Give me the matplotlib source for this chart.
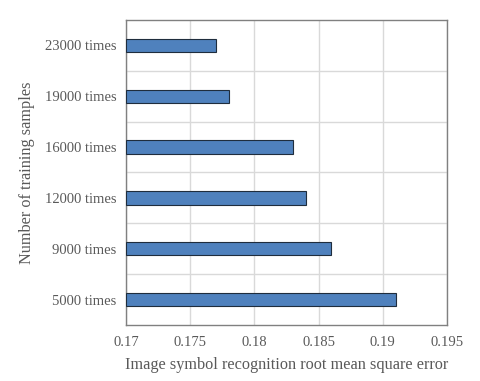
import matplotlib
matplotlib.use("Agg")
import matplotlib.pyplot as plt

categories = ["5000 times", "9000 times", "12000 times", "16000 times", "19000 times", "23000 times"]
values = [0.191, 0.186, 0.184, 0.183, 0.178, 0.177]
xticks = [0.17, 0.175, 0.18, 0.185, 0.19, 0.195]
xtick_labels = ["0.17", "0.175", "0.18", "0.185", "0.19", "0.195"]

plt.rcParams['font.family'] = ['Liberation Serif', 'DejaVu Serif']
text_color = "#595959"

fig = plt.figure(figsize=(4.8, 3.81), dpi=100)
ax = fig.add_axes([0.2625, 0.147, 0.66875, 0.8005])

y = list(range(len(categories)))
ax.barh(y, [v - 0.17 for v in values], left=0.17, height=0.26,
        color="#4F81BD", edgecolor="#1F2D3D", linewidth=0.8, zorder=3)

ax.set_xlim(0.17, 0.195)
ax.set_ylim(-0.5, 5.5)
ax.set_xticks(xticks)
ax.set_xticklabels(xtick_labels)
ax.set_yticks(y)
ax.set_yticklabels(categories)

ax.set_yticks([i + 0.5 for i in range(len(categories) - 1)], minor=True)
ax.grid(True, axis="x", which="major", color="#D9D9D9", linewidth=1.0, zorder=0)
ax.grid(True, axis="y", which="minor", color="#D9D9D9", linewidth=1.0, zorder=0)
ax.tick_params(axis="both", which="both", length=0, colors=text_color, labelsize=10.5)
ax.tick_params(axis="x", pad=8)
ax.tick_params(axis="y", pad=7)

for s in ax.spines.values():
    s.set_color("#808080")
    s.set_linewidth(1.0)

ax.set_xlabel("Image symbol recognition root mean square error", fontsize=11.7, color=text_color, labelpad=6)
ax.set_ylabel("Number of training samples", fontsize=11.7, color=text_color, labelpad=7)

fig.savefig("out.png", dpi=100)
